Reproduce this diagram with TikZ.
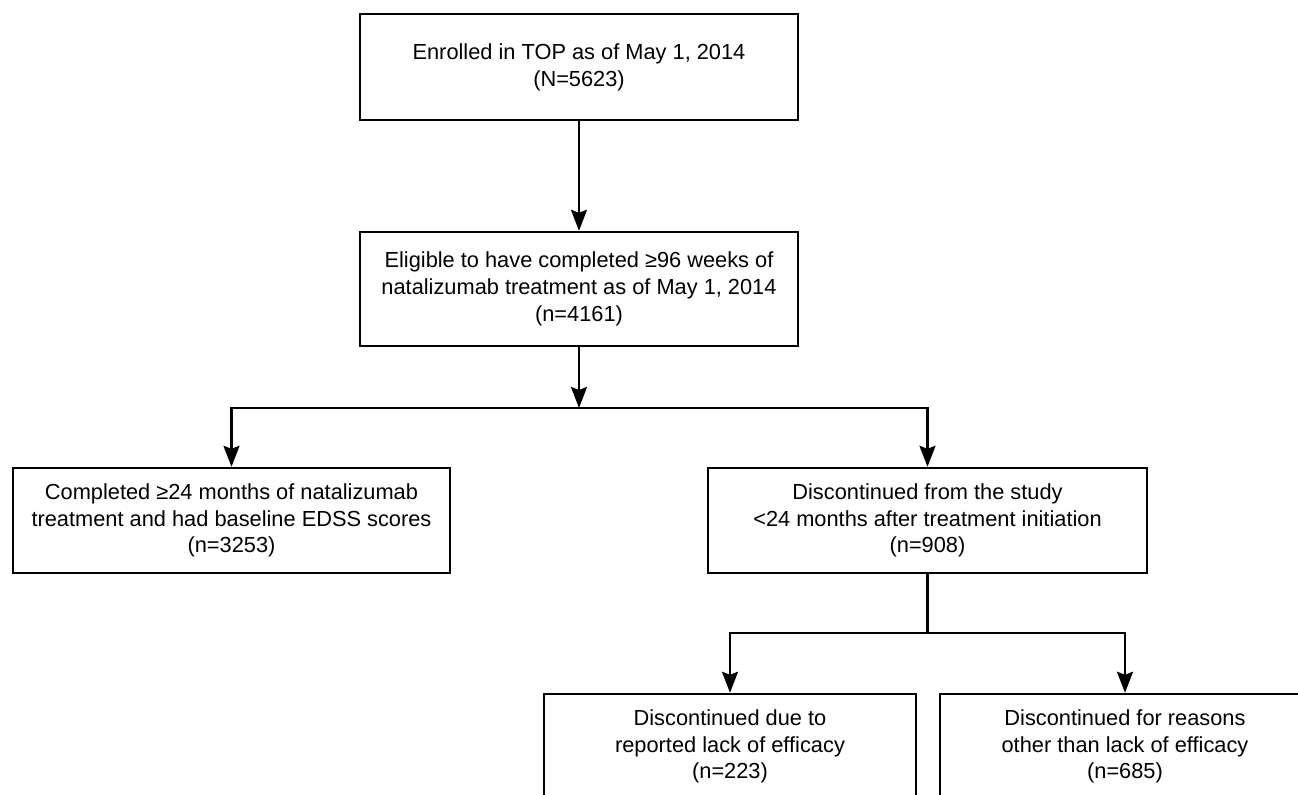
\documentclass[tikz,border=0pt]{standalone}
\usepackage{fontspec}
\setmainfont{Liberation Sans}
\usetikzlibrary{arrows.meta, calc, positioning}

\begin{document}
\begin{tikzpicture}
        [x=0.5pt, y=-0.5pt,
         boxsty/.style={rectangle,
                        draw=black,
                        line width=1.2pt,
                        align=center,
                        inner sep=0pt,
                        font=\fontsize{10.9pt}{13.4pt}\selectfont},
         post/.style={-{Stealth[length=10.5pt, width=8pt, inset=1.5pt]}, line width=1.1pt},
         plain/.style={line width=1.1pt}]

        \useasboundingbox (0, 0) rectangle (1298, 795);
        \clip (0, 0) rectangle (1298, 795);

        \node[boxsty, minimum width=219pt, minimum height=53pt] (enrolled box) at (579, 67)
                {Enrolled in TOP as of May 1, 2014\\(N=5623)};

        \node[boxsty, minimum width=219pt, minimum height=57pt] (eligible box) at (579, 289)
                {Eligible to have completed ≥96 weeks of\\natalizumab treatment as of May 1, 2014\\(n=4161)};

        \node[boxsty, minimum width=218.5pt, minimum height=52.5pt] (completed box) at (231.5, 520.5)
                {Completed ≥24 months of natalizumab\\treatment and had baseline EDSS scores\\(n=3253)};

        \node[boxsty, minimum width=219.5pt, minimum height=52.5pt] (discont box) at (927.5, 520.5)
                {Discontinued from the study\\<24 months after treatment initiation\\(n=908)};

        \node[boxsty, minimum width=186pt, minimum height=52.5pt] (efficacy box) at (730, 746.5)
                {Discontinued due to\\reported lack of efficacy\\(n=223)};

        \node[boxsty, minimum width=185pt, minimum height=52.5pt] (other box) at (1125, 746.5)
                {Discontinued for reasons\\other than lack of efficacy\\(n=685)};

        % split points
        \coordinate (split one) at (579, 408);
        \coordinate (split two) at (927.5, 633);

        \draw[post] (enrolled box) -- (eligible box);
        \draw[post] (eligible box) -- (split one);
        \draw[post] (split one) -| (completed box.north);
        \draw[post] (split one) -| (discont box.north);

        \draw[plain] (discont box) -- (split two);
        \draw[post] (split two) -| (efficacy box.north);
        \draw[post] (split two) -| (other box.north);
\end{tikzpicture}
\end{document}
